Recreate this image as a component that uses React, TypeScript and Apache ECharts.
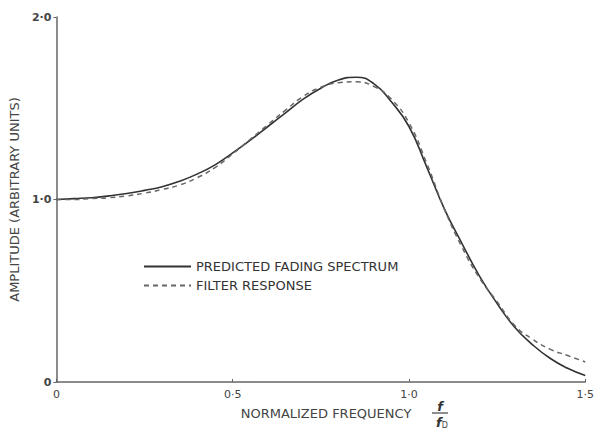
import React, { useEffect, useRef } from "react";
import * as echarts from "echarts";

const freq = [0, 0.05, 0.1, 0.15, 0.2, 0.25, 0.3, 0.35, 0.4, 0.45, 0.5, 0.55, 0.6, 0.65, 0.7, 0.75, 0.8, 0.85, 0.9, 0.95, 1.0, 1.05, 1.1, 1.15, 1.2, 1.25, 1.3, 1.35, 1.4, 1.45, 1.5];
const predicted = [1.0, 1.005, 1.01, 1.02, 1.033, 1.05, 1.07, 1.1, 1.14, 1.19, 1.255, 1.325, 1.4, 1.475, 1.55, 1.61, 1.655, 1.67, 1.635, 1.535, 1.4, 1.18, 0.95, 0.76, 0.58, 0.43, 0.3, 0.205, 0.13, 0.075, 0.035];
const filter = [1.0, 1.0, 1.005, 1.01, 1.02, 1.035, 1.055, 1.08, 1.12, 1.175, 1.25, 1.33, 1.41, 1.49, 1.565, 1.615, 1.64, 1.645, 1.62, 1.55, 1.42, 1.2, 0.95, 0.74, 0.57, 0.44, 0.31, 0.235, 0.18, 0.145, 0.11];
const seriesNames = ["PREDICTED FADING SPECTRUM", "FILTER RESPONSE"];
const yTicks = [0, 1, 2];
const xTicks = [0, 0.5, 1.0, 1.5];

const fmt = (v: number) => (v === 0 ? "0" : v.toFixed(1).replace(".", "·"));

export default function App() {
  const ref = useRef<HTMLDivElement>(null);
  useEffect(() => {
    if (!ref.current) return;
    const chart = echarts.init(ref.current, null, { renderer: "svg" });
    const font = "DejaVu Sans";
    chart.setOption({
      animation: false,
      backgroundColor: "#ffffff",
      grid: { left: 51, right: 9, top: 17, bottom: 46, containLabel: false },
      legend: {
        orient: "vertical",
        left: 138,
        top: 255,
        itemWidth: 47,
        itemHeight: 14,
        itemGap: 6,
        itemStyle: { opacity: 0 },
        textStyle: { color: "#333", fontSize: 13, fontFamily: font },
        data: seriesNames,
      },
      xAxis: {
        type: "value",
        min: 0,
        max: 1.5,
        interval: 0.5,
        axisLine: { show: true, onZero: false, lineStyle: { color: "#666", width: 1.5 } },
        axisTick: { show: true, length: 3, inside: true, lineStyle: { color: "#666" } },
        axisLabel: {
          color: "#444",
          fontSize: 11,
          fontFamily: font,
          margin: 7,
          formatter: (v: number) => (xTicks.includes(v) ? fmt(v) : ""),
        },
        splitLine: { show: false },
      },
      yAxis: {
        type: "value",
        min: 0,
        max: 2,
        interval: 1,
        name: "AMPLITUDE (ARBITRARY UNITS)",
        nameLocation: "middle",
        nameRotate: 90,
        nameGap: 27,
        nameTextStyle: { color: "#444", fontSize: 13, fontFamily: font },
        axisLine: { show: true, onZero: false, lineStyle: { color: "#666", width: 1.5 } },
        axisTick: { show: true, length: 3, lineStyle: { color: "#666" } },
        axisLabel: {
          color: "#444",
          fontSize: 11,
          fontFamily: font,
          fontWeight: "bold",
          margin: 5,
          formatter: (v: number) => (yTicks.includes(v) ? fmt(v) : ""),
        },
        splitLine: { show: false },
      },
      graphic: [
        {
          type: "text",
          x: 326,
          y: 413,
          style: {
            text: "NORMALIZED FREQUENCY",
            fill: "#444",
            fontSize: 13,
            fontFamily: font,
            align: "center",
            verticalAlign: "middle",
          },
        },
        {
          type: "text",
          x: 440,
          y: 406,
          style: {
            text: "f",
            fill: "#333",
            fontSize: 13,
            fontStyle: "italic",
            fontWeight: "bold",
            fontFamily: font,
            align: "center",
            verticalAlign: "middle",
          },
        },
        {
          type: "line",
          shape: { x1: 432, y1: 413, x2: 448, y2: 413 },
          style: { stroke: "#444", lineWidth: 1.2 },
        },
        {
          type: "text",
          x: 436,
          y: 415,
          style: {
            text: "{a|f}{b|D}",
            rich: {
              a: { fill: "#333", fontSize: 13, fontStyle: "italic", fontWeight: "bold", fontFamily: font },
              b: { fill: "#444", fontSize: 8, fontFamily: font, padding: [6, 0, 0, 0] },
            },
          },
        },
      ],
      series: [
        {
          name: seriesNames[0],
          type: "line",
          smooth: true,
          symbol: "none",
          data: freq.map((x, i) => [x, predicted[i]]),
          lineStyle: { color: "#333", width: 1.6, type: "solid" },
          itemStyle: { color: "#333" },
        },
        {
          name: seriesNames[1],
          type: "line",
          smooth: true,
          symbol: "none",
          data: freq.map((x, i) => [x, filter[i]]),
          lineStyle: { color: "#666", width: 1.5, type: [5, 4] },
          itemStyle: { color: "#666" },
        },
      ],
    });
    return () => chart.dispose();
  }, []);
  return <div ref={ref} style={{ width: 597, height: 428, position: "absolute", left: 0, top: 0 }} />;
}
